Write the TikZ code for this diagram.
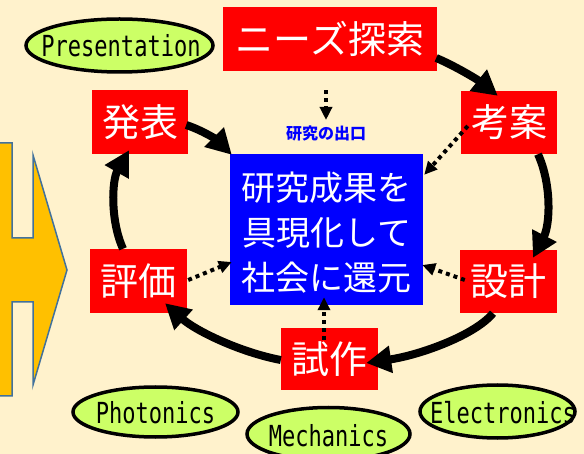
\documentclass[tikz,border=0pt]{standalone}
\usepackage{fontspec}
\usepackage{graphicx}
\usetikzlibrary{shapes.geometric,arrows.meta,calc}
\newfontfamily\jp{Noto Sans CJK JP}
\newfontfamily\monof{DejaVu Sans Mono}
\definecolor{bgc}{HTML}{FFF2CC}
\definecolor{ellgreen}{HTML}{CCFF66}
\definecolor{orangeA}{HTML}{FFC000}
\definecolor{steelB}{HTML}{41719C}
\tikzset{
  redbox/.style={fill=red, text=white, inner sep=0pt, font=\jp\fontsize{38}{40}\selectfont},
  bigarrow/.style={line width=8pt, -{Triangle[length=25pt,width=26pt]}},
  dotarrow/.style={line width=4pt, dash pattern=on 4pt off 4pt, -{Triangle[length=13pt,width=12pt]}},
  greenell/.style={ellipse, draw=black, line width=3.5pt, fill=ellgreen, inner sep=0pt},
  etext/.style={font=\monof\fontsize{29}{30}\selectfont, inner sep=0pt}
}
\newcommand{\cond}[1]{\scalebox{0.76}[1]{#1}}
\begin{document}
\begin{tikzpicture}[x=1pt,y=-1pt]
\fill[bgc] (0,0) rectangle (584,454);
\useasboundingbox (0,0) rectangle (584,454);

% left block arrow
\filldraw[fill=orangeA, draw=steelB, line width=1.5pt]
  (-5,143) -- (12,143) -- (12,238) -- (33,238) -- (33,155) -- (67,270)
  -- (33,385) -- (33,302) -- (12,302) -- (12,396) -- (-5,396) -- cycle;

% ellipses
\node[greenell, minimum width=187pt, minimum height=53pt] (presE) at (119.5,45.5) {};
\node[etext] (presT) at (121,46) {\cond{Presentation}};
\node[greenell, minimum width=165pt, minimum height=50pt] (photE) at (155.5,412) {};
\node[etext] (photT) at (155.5,413) {\cond{Photonics}};
\node[greenell, minimum width=163pt, minimum height=53pt] (mechE) at (328.5,434) {};
\node[etext] (mechT) at (328.5,436) {\cond{Mechanics}};
\node[greenell, minimum width=155pt, minimum height=53pt] (elecE) at (497.5,411.5) {};
\node[etext] (elecT) at (503,413) {\cond{Electronics}};

% boxes
\node[redbox, minimum width=214pt, minimum height=64pt] (need) at (330,39) {ニーズ探索};
\node[redbox, minimum width=96pt, minimum height=63pt] (kouan) at (509,122.5) {考案};
\node[redbox, minimum width=97pt, minimum height=63pt] (sekkei) at (508.5,281.5) {設計};
\node[redbox, minimum width=97pt, minimum height=62pt] (shisaku) at (329.5,359) {試作};
\node[redbox, minimum width=97pt, minimum height=64pt] (hyouka) at (138.5,281) {評価};
\node[redbox, minimum width=96pt, minimum height=64pt] (happyou) at (140,122) {発表};
\node[fill=blue, minimum width=193pt, minimum height=151pt, inner sep=0pt] (blue) at (326.5,229.5) {};
\node[text=white, align=center, inner sep=0pt, font=\jp\fontsize{34}{45}\selectfont] (bluetext) at (326.5,233) {研究成果を\\具現化して\\社会に還元};
\node[text=blue, inner sep=0pt, font=\jp\bfseries\fontsize{16}{18}\selectfont] (exit) at (326,133) {研究の出口};

% thick cycle arrows
\draw[bigarrow] ($(need.east)+(-1,19)$) .. controls +(19,8) and +(-20,-16) .. ($(kouan.north west)+(37,5)$);
\draw[bigarrow] ($(kouan.south)+(29,0)$) .. controls +(14,31) and +(17,-33) .. ($(sekkei.north)+(24.5,8)$);
\draw[bigarrow] ($(sekkei.south)+(-15.5,0)$) .. controls +(-18,22) and +(54,-8) .. ($(shisaku.east)+(-12,4)$);
\draw[bigarrow] ($(shisaku.west)+(0,1)$) .. controls +(-42,-8) and +(30,27) .. ($(hyouka.south)+(26.5,-10)$);
\draw[bigarrow] ($(hyouka.north)+(-15.5,0)$) .. controls +(-13,-29) and +(-17,30) .. ($(happyou.south)+(-11,-4)$);
\draw[bigarrow] ($(happyou.east)+(-2,3)$) .. controls +(18,6) and +(-14,-14) .. ($(blue.north west)+(2,1)$);

% dotted arrows
\draw[dotarrow] ($(need.south)+(-4,19)$) -- ($(exit.center)+(0,-13)$);
\draw[dotarrow] ($(kouan.west)+(7,3.5)$) -- ($(blue.north east)+(1,21)$);
\draw[dotarrow] ($(sekkei.west)+(5,-1.5)$) -- ($(blue.east)+(-1,35.5)$);
\draw[dotarrow] ($(shisaku.north)+(-5.5,12)$) -- ($(blue.south)+(-2.5,-8)$);
\draw[dotarrow] ($(hyouka.east)+(1,-1)$) -- ($(blue.west)+(2,32.5)$);
\end{tikzpicture}
\end{document}
